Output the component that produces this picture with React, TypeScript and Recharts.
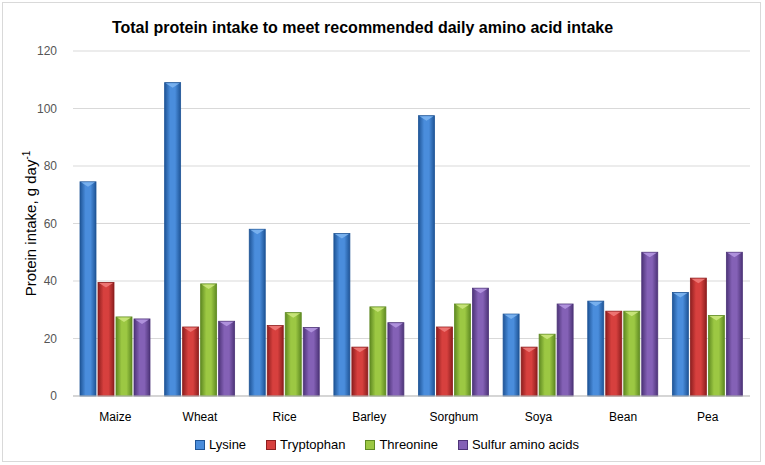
import React from "react"
import { Bar, BarChart, CartesianGrid, XAxis, YAxis } from "recharts"

const crops = ["Maize", "Wheat", "Rice", "Barley", "Sorghum", "Soya", "Bean", "Pea"]
const lysine = [74.5, 109, 58, 56.5, 97.5, 28.5, 33, 36]
const tryptophan = [39.5, 24, 24.5, 17, 24, 17, 29.5, 41]
const threonine = [27.5, 39, 29, 31, 32, 21.5, 29.5, 28]
const sulfur = [26.8, 26, 23.8, 25.5, 37.5, 32, 50, 50]
const yTicks = [0, 20, 40, 60, 80, 100, 120]

const series = [
  { key: "lysine", name: "Lysine", dark: "#1f5597", mid: "#4a8ddc", light: "#7cb4f0" },
  { key: "tryptophan", name: "Tryptophan", dark: "#8e1f1f", mid: "#d7403e", light: "#f07a78" },
  { key: "threonine", name: "Threonine", dark: "#5f8a22", mid: "#9cc843", light: "#cbe67d" },
  { key: "sulfur", name: "Sulfur amino acids", dark: "#4d3478", mid: "#8461b6", light: "#b497e0" },
]

const data = crops.map((name, i) => ({
  name,
  lysine: lysine[i],
  tryptophan: tryptophan[i],
  threonine: threonine[i],
  sulfur: sulfur[i],
}))

const font = "Liberation Sans, Arial, sans-serif"

function BevelBar(props: any) {
  const { x, y, width, height, id } = props
  if (!height || height <= 0) return null
  const s = series.find((d) => d.key === id) || series[0]
  const tip = Math.min(5, height)
  return (
    <g>
      <rect x={x} y={y} width={width} height={height} fill={`url(#grad-${s.key})`} stroke={s.dark} strokeWidth={0.8} />
      <path
        d={`M${x + 1},${y + 0.5} L${x + width - 1},${y + 0.5} L${x + width / 2},${y + tip} Z`}
        fill={s.light}
        opacity={0.9}
      />
    </g>
  )
}

function YLabel(props: any) {
  const { viewBox } = props
  const cx = 36
  const cy = viewBox.y + viewBox.height / 2
  return (
    <text
      x={cx}
      y={cy}
      transform={`rotate(-90, ${cx}, ${cy})`}
      textAnchor="middle"
      fontFamily={font}
      fontSize={15}
      fill="#000"
    >
      Protein intake, g day
      <tspan dy={-6} fontSize={10}>-1</tspan>
    </text>
  )
}

export default function App() {
  return (
    <div style={{ position: "absolute", left: 0, top: 0, width: 765, height: 465, background: "#fff" }}>
      <div
        style={{
          position: "absolute",
          left: 2,
          top: 2,
          width: 757,
          height: 458,
          border: "1px solid #d9d9d9",
        }}
      />
      <div
        style={{
          position: "absolute",
          left: 0,
          top: 19,
          width: 725,
          textAlign: "center",
          fontFamily: font,
          fontWeight: "bold",
          fontSize: 16,
          color: "#000",
        }}
      >
        Total protein intake to meet recommended daily amino acid intake
      </div>
      <div style={{ position: "absolute", left: 0, top: 0 }}>
        <BarChart
          width={765}
          height={465}
          data={data}
          margin={{ top: 51, right: 15, bottom: 39, left: 0 }}
          barGap={2}
          barCategoryGap={7}
        >
          <defs>
            {series.map((s) => (
              <linearGradient key={s.key} id={`grad-${s.key}`} x1="0" y1="0" x2="1" y2="0">
                <stop offset="0%" stopColor={s.dark} />
                <stop offset="35%" stopColor={s.mid} />
                <stop offset="65%" stopColor={s.mid} />
                <stop offset="100%" stopColor={s.dark} />
              </linearGradient>
            ))}
          </defs>
          <CartesianGrid vertical={false} stroke="#d9d9d9" />
          <XAxis
            dataKey="name"
            height={30}
            axisLine={{ stroke: "#bfbfbf" }}
            tickLine={false}
            tick={{ fontFamily: font, fontSize: 12, fill: "#000" }}
            tickMargin={10}
          />
          <YAxis
            domain={[0, 120]}
            ticks={yTicks}
            width={73}
            axisLine={false}
            tickLine={false}
            tick={{ fontFamily: font, fontSize: 12, fill: "#555" }}
            tickMargin={10}
            label={<YLabel />}
          />
          {series.map((s) => (
            <Bar
              key={s.key}
              dataKey={s.key}
              name={s.name}
              fill={s.mid}
              shape={(p: any) => <BevelBar {...p} id={s.key} />}
              isAnimationActive={false}
            />
          ))}
        </BarChart>
      </div>
      <div
        style={{
          position: "absolute",
          left: 195,
          top: 437,
          display: "flex",
          gap: 20,
          fontFamily: font,
          fontSize: 13,
          color: "#000",
          alignItems: "center",
        }}
      >
        {series.map((s) => (
          <div key={s.key} style={{ display: "flex", alignItems: "center", gap: 4 }}>
            <span
              style={{
                display: "inline-block",
                width: 8,
                height: 8,
                background: s.mid,
                border: `1px solid ${s.dark}`,
              }}
            />
            <span>{s.name}</span>
          </div>
        ))}
      </div>
    </div>
  )
}
